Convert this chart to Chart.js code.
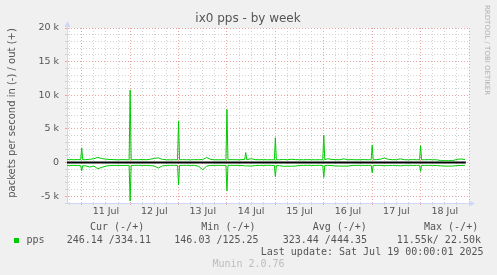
<!DOCTYPE html>
<html>
<head>
<meta charset="utf-8">
<script src="https://cdn.jsdelivr.net/npm/chart.js"></script>
<style>
  html, body { margin: 0; padding: 0; background: #f0f0f0; }
  #wrap { width: 497px; height: 275px; }
</style>
</head>
<body>
<div id="wrap"><canvas id="graficoPps" width="497" height="275"></canvas></div>
<script>
// hours counted from 10 Jul 00:00, one baseline sample every 2 h from 16 h
const baseStart = 16;
const baseStep = 2;
const outBase = [
    440, 460, 430, 450, 430, 440, 500, 580, 780, 600,
    510, 460, 440, 420, 440, 430, 420, 440, 430, 460,
    430, 500, 630, 700, 480, 430, 410, 430, 420, 440,
    430, 420, 440, 430, 460, 760, 460, 430, 420, 430,
    420, 440, 430, 420, 460, 440, 580, 440, 430, 440,
    420, 430, 420, 430, 460, 430, 500, 440, 430, 420,
    440, 430, 420, 430, 420, 580, 460, 440, 430, 560,
    430, 440, 420, 430, 440, 430, 420, 440, 500, 680,
    480, 430, 440, 560, 430, 420, 440, 430, 420, 430,
    440, 430, 420, 300, 290, 290, 300, 480, 540, 460
];
const inBase = [
    -440, -420, -410, -440, -460, -480, -660, -510, -900, -710,
    -510, -440, -420, -410, -430, -410, -420, -410, -400, -420,
    -410, -440, -510, -800, -480, -420, -410, -400, -420, -410,
    -400, -420, -410, -560, -1050, -510, -420, -410, -400, -420,
    -410, -400, -420, -410, -440, -480, -510, -440, -410, -420,
    -400, -410, -420, -460, -540, -530, -540, -510, -420, -410,
    -400, -420, -410, -400, -420, -410, -440, -500, -510, -520,
    -510, -420, -410, -400, -420, -410, -400, -420, -410, -460,
    -440, -410, -420, -480, -410, -400, -420, -410, -400, -410,
    -420, -410, -440, -480, -510, -520, -510, -440, -420, -410
];

// short peaks (daily jobs at midnight and a few small ones)
const spikeHours = [24, 48, 72, 96, 105.3, 120, 144, 168, 192];
const spikeOut   = [2200, 10800, 6200, 7900, 1500, 3700, 4100, 2600, 2500];
const spikeIn    = [-1200, -5700, -3300, -4200, -500, -2100, -2200, -1500, -1300];

const zeroHours = [16.7, 214.4];

const dayLabelHours = [36, 60, 84, 108, 132, 156, 180, 204];
const dayLabels = ['11 Jul', '12 Jul', '13 Jul', '14 Jul', '15 Jul', '16 Jul', '17 Jul', '18 Jul'];

const legendHead = ['Cur (-/+)', 'Min (-/+)', 'Avg (-/+)', 'Max (-/+)'];
const legendVals = ['246.14 /334.11', '146.03 /125.25', '323.44 /444.35', '11.55k/ 22.50k'];

const hMin = 16.7, hMax = 216;
const yMin = -6000, yMax = 20000;

const armaSerie = (base, peaks) => {
    let pts = [];
    base.forEach((v, i) => {
        const h = baseStart + baseStep * i;
        if (!spikeHours.some(s => Math.abs(s - h) <= 0.5)) pts = [...pts, { x: h, y: v }];
    });
    spikeHours.forEach((h, i) => {
        const b = base[Math.round((h - baseStart) / baseStep)];
        pts = [...pts, { x: h - 0.5, y: b }, { x: h, y: peaks[i] }, { x: h + 0.5, y: b }];
    });
    return pts.sort((a, b) => a.x - b.x);
}

const gridGris = '#d2d2d2';
const gridRojo = '#eaa4a4';
const ejeColor = '#CFD6F8';

const fondoLienzo = {
    id: 'fondoLienzo',
    beforeDraw(chart) {
        const a = chart.chartArea;
        chart.ctx.save();
        chart.ctx.fillStyle = '#ffffff';
        chart.ctx.fillRect(a.left, a.top, a.right - a.left, a.bottom - a.top);
        chart.ctx.restore();
    }
}

const textosMunin = {
    id: 'textosMunin',
    afterDraw(chart) {
        const ctx = chart.ctx;
        const area = chart.chartArea;
        ctx.save();
        // arrows
        ctx.fillStyle = ejeColor;
        ctx.strokeStyle = ejeColor;
        ctx.lineWidth = 1;
        ctx.beginPath();
        ctx.moveTo(area.left + 0.5, area.top);
        ctx.lineTo(area.left + 0.5, area.top - 4);
        ctx.stroke();
        ctx.beginPath();
        ctx.moveTo(area.left + 0.5, area.top - 7);
        ctx.lineTo(area.left - 2.5, area.top - 1);
        ctx.lineTo(area.left + 3.5, area.top - 1);
        ctx.closePath();
        ctx.fill();
        ctx.beginPath();
        ctx.moveTo(area.right, area.bottom + 0.5);
        ctx.lineTo(area.right + 2, area.bottom + 0.5);
        ctx.stroke();
        ctx.beginPath();
        ctx.moveTo(area.right + 6, area.bottom + 0.5);
        ctx.lineTo(area.right, area.bottom - 2.5);
        ctx.lineTo(area.right, area.bottom + 3.5);
        ctx.closePath();
        ctx.fill();

        // title
        ctx.fillStyle = '#555';
        ctx.font = '12px "DejaVu Sans"';
        ctx.textAlign = 'center';
        ctx.textBaseline = 'alphabetic';
        ctx.fillText('ix0 pps - by week', 248, 22);

        // vertical axis label
        ctx.save();
        ctx.translate(12, 113);
        ctx.rotate(-Math.PI / 2);
        ctx.font = '10px "DejaVu Sans"';
        ctx.textBaseline = 'middle';
        ctx.fillText('packets per second in (-) / out (+)', 0, 0);
        ctx.restore();

        // watermark
        ctx.save();
        ctx.translate(487, 5);
        ctx.rotate(Math.PI / 2);
        ctx.fillStyle = '#b0b0b0';
        ctx.font = '7px "DejaVu Sans"';
        ctx.textAlign = 'left';
        ctx.textBaseline = 'middle';
        ctx.fillText('RRDTOOL / TOBI OETIKER', 0, 0);
        ctx.restore();

        // legend
        ctx.font = '10px "DejaVu Sans Mono"';
        ctx.textBaseline = 'middle';
        ctx.textAlign = 'left';
        ctx.fillStyle = '#555';
        const headX = [90, 201.3, 312.7, 424];
        const valX = [66.7, 174.3, 282.7, 396.7];
        legendHead.forEach((t, i) => ctx.fillText(t, headX[i], 227.5));
        legendVals.forEach((t, i) => ctx.fillText(t, valX[i], 240));
        ctx.fillText('pps', 26.5, 240);
        ctx.textAlign = 'right';
        ctx.fillText('Last update: Sat Jul 19 00:00:01 2025', 483.5, 252);
        ctx.fillStyle = '#00cc00';
        ctx.fillRect(14, 238, 5, 5);
        ctx.textAlign = 'center';
        ctx.fillStyle = '#bcbcbc';
        ctx.fillText('Munin 2.0.76', 248.5, 264);
        ctx.restore();
    }
}

const ctx = document.getElementById('graficoPps');
const dataGrafico = {
    type: 'line',
    data: {
        datasets: [
            {
                label: 'out',
                data: armaSerie(outBase, spikeOut),
                borderColor: '#00cc00',
                borderWidth: 1,
                pointRadius: 0,
                tension: 0
            },
            {
                label: 'in',
                data: armaSerie(inBase, spikeIn),
                borderColor: '#00cc00',
                borderWidth: 1,
                pointRadius: 0,
                tension: 0
            },
            {
                label: 'zero',
                data: zeroHours.map(h => ({ x: h, y: 0 })),
                borderColor: '#000000',
                borderWidth: 2,
                pointRadius: 0
            }
        ]
    },
    options: {
        responsive: false,
        animation: false,
        devicePixelRatio: 1,
        layout: { padding: { top: 28, right: 28, left: 0, bottom: 0 } },
        plugins: {
            legend: { display: false },
            title: { display: false },
            tooltip: { enabled: false }
        },
        scales: {
            x: {
                type: 'linear',
                min: hMin,
                max: hMax,
                afterFit: s => { s.height = 72; },
                afterBuildTicks: s => {
                    let t = [];
                    for (let h = 18; h <= hMax; h += 6) t = [...t, { value: h }];
                    s.ticks = t;
                },
                ticks: {
                    autoSkip: false,
                    maxRotation: 0,
                    padding: 1,
                    color: '#555',
                    font: { family: 'DejaVu Sans', size: 9.5 },
                    callback: v => {
                        const i = dayLabelHours.indexOf(v);
                        return i >= 0 ? dayLabels[i] : '';
                    }
                },
                grid: {
                    drawTicks: true,
                    tickLength: 2,
                    color: c => (c.tick && c.tick.value % 24 === 0) ? gridRojo : gridGris
                },
                border: { color: ejeColor, width: 1, dash: [1, 2] }
            },
            y: {
                min: yMin,
                max: yMax,
                afterFit: s => { s.width = 67; },
                afterBuildTicks: s => {
                    let t = [];
                    for (let v = yMin; v <= yMax; v += 1000) t = [...t, { value: v }];
                    s.ticks = t;
                },
                ticks: {
                    autoSkip: false,
                    padding: 6,
                    color: '#555',
                    font: { family: 'DejaVu Sans', size: 9.5 },
                    callback: v => v % 5000 !== 0 ? '' : (v === 0 ? '0' : (v / 1000) + ' k')
                },
                grid: {
                    drawTicks: true,
                    tickLength: 2,
                    color: c => (c.tick && c.tick.value % 5000 === 0) ? gridRojo : gridGris
                },
                border: { color: ejeColor, width: 1, dash: [1, 2] }
            }
        }
    },
    plugins: [fondoLienzo, textosMunin]
}
window.chartPps = new Chart(ctx, dataGrafico);
</script>
</body>
</html>
